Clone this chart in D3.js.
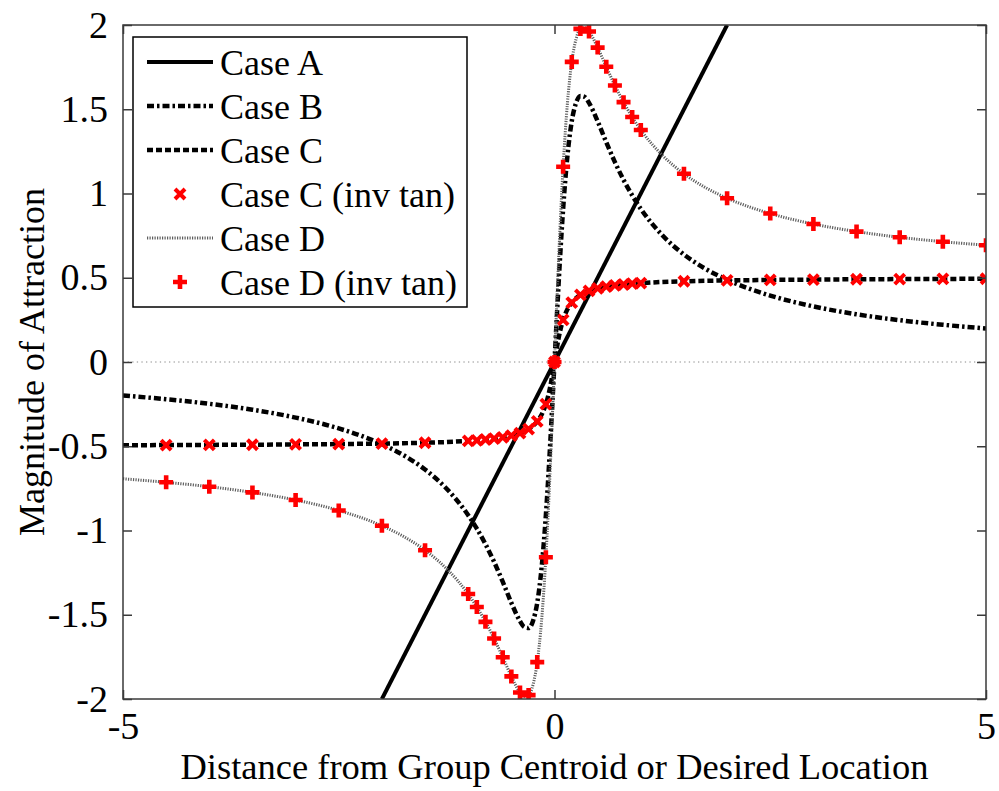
<!DOCTYPE html>
<html>
<head>
<meta charset="utf-8">
<script src="https://cdn.jsdelivr.net/npm/d3@7"></script>
<style>
  html, body { margin: 0; padding: 0; background: #fff; }
  svg { display: block; font-family: "Liberation Serif", "Times New Roman", serif; }
</style>
</head>
<body>
<svg id="chart"></svg>
<script>
// curve samples (x) shared by case B, C, D lines
const lineX = [-5, -4.5, -4, -3.5, -3, -2.5, -2, -1.75, -1.5, -1.25, -1, -0.9, -0.8, -0.7, -0.6, -0.5, -0.4, -0.35, -0.3, -0.25, -0.2, -0.15, -0.1, -0.075, -0.05, -0.025,
  0, 0.025, 0.05, 0.075, 0.1, 0.15, 0.2, 0.25, 0.3, 0.35, 0.4, 0.5, 0.6, 0.7, 0.8, 0.9, 1, 1.25, 1.5, 1.75, 2, 2.5, 3, 3.5, 4, 4.5, 5];

const caseB = [-0.199, -0.221, -0.248, -0.283, -0.330, -0.394, -0.488, -0.553, -0.638, -0.752, -0.909, -0.989, -1.081, -1.186, -1.304, -1.429, -1.538, -1.573, -1.579, -1.538, -1.429, -1.224, -0.909, -0.710, -0.488, -0.248,
  0, 0.248, 0.488, 0.710, 0.909, 1.224, 1.429, 1.538, 1.579, 1.573, 1.538, 1.429, 1.304, 1.186, 1.081, 0.989, 0.909, 0.752, 0.638, 0.553, 0.488, 0.394, 0.330, 0.283, 0.248, 0.221, 0.199];

const caseC = [-0.494, -0.493, -0.492, -0.491, -0.489, -0.487, -0.484, -0.482, -0.479, -0.475, -0.468, -0.465, -0.460, -0.455, -0.447, -0.437, -0.422, -0.411, -0.398, -0.379, -0.352, -0.313, -0.250, -0.205, -0.148, -0.078,
  0, 0.078, 0.148, 0.205, 0.250, 0.313, 0.352, 0.379, 0.398, 0.411, 0.422, 0.437, 0.447, 0.455, 0.460, 0.465, 0.468, 0.475, 0.479, 0.482, 0.484, 0.487, 0.489, 0.491, 0.492, 0.493, 0.494];

const caseD = [-0.693, -0.714, -0.740, -0.774, -0.819, -0.881, -0.972, -1.035, -1.117, -1.227, -1.377, -1.454, -1.542, -1.641, -1.752, -1.866, -1.961, -1.984, -1.977, -1.917, -1.781, -1.537, -1.159, -0.915, -0.635, -0.326,
  0, 0.326, 0.635, 0.915, 1.159, 1.537, 1.781, 1.917, 1.977, 1.984, 1.961, 1.866, 1.752, 1.641, 1.542, 1.454, 1.377, 1.227, 1.117, 1.035, 0.972, 0.881, 0.819, 0.774, 0.740, 0.714, 0.693];

// case A is the straight line y = x
const caseAX = [-2, 2];
const caseAY = [-2, 2];

// inverse tangent marker samples
const markerX = [-4.5, -4, -3.5, -3, -2.5, -2, -1.5, -1, -0.9, -0.8, -0.7, -0.6, -0.5, -0.4, -0.3, -0.2, -0.1,
  0, 0.1, 0.2, 0.3, 0.4, 0.5, 0.6, 0.7, 0.8, 0.9, 1, 1.5, 2, 2.5, 3, 3.5, 4, 4.5, 5];
const caseCInvTan = [-0.493, -0.492, -0.491, -0.489, -0.487, -0.484, -0.479, -0.468, -0.465, -0.460, -0.455, -0.447, -0.437, -0.422, -0.398, -0.352, -0.250,
  0, 0.250, 0.352, 0.398, 0.422, 0.437, 0.447, 0.455, 0.460, 0.465, 0.468, 0.479, 0.484, 0.487, 0.489, 0.491, 0.492, 0.493, 0.494];
const caseDInvTan = [-0.714, -0.740, -0.774, -0.819, -0.881, -0.972, -1.117, -1.377, -1.454, -1.542, -1.641, -1.752, -1.866, -1.961, -1.977, -1.781, -1.159,
  0, 1.159, 1.781, 1.977, 1.961, 1.866, 1.752, 1.641, 1.542, 1.454, 1.377, 1.117, 0.972, 0.881, 0.819, 0.774, 0.740, 0.714, 0.693];

const xTicks = [-5, 0, 5];
const yTicks = [-2, -1.5, -1, -0.5, 0, 0.5, 1, 1.5, 2];
const legendLabels = ["Case A", "Case B", "Case C", "Case C (inv tan)", "Case D", "Case D (inv tan)"];

const width = 999;
const height = 791;
const margin = { top: 25, right: 13, bottom: 92, left: 123 };
const FONT = 36;
const TICK_FONT = 38;
const RED = "#ff0000";

const svg = d3.select("#chart").attr("width", width).attr("height", height);
svg.append("rect").attr("width", width).attr("height", height).attr("fill", "#fff");

const x = d3.scaleLinear().domain([-5, 5]).range([margin.left, width - margin.right]);
const y = d3.scaleLinear().domain([-2, 2]).range([height - margin.bottom, margin.top]);

svg.append("defs").append("clipPath").attr("id", "plot-clip")
  .append("rect")
  .attr("x", x(-5)).attr("y", y(2))
  .attr("width", x(5) - x(-5)).attr("height", y(-2) - y(2));

const plot = svg.append("g").attr("clip-path", "url(#plot-clip)");

const STYLES = {
  A: { stroke: "#000", width: 4, dash: null },
  B: { stroke: "#000", width: 4.5, dash: "7,3,2.5,3" },
  C: { stroke: "#000", width: 4.5, dash: "6,3" },
  D: { stroke: "#5e5e5e", width: 3, dash: "1.2,1.3" }
};

// zero reference line
plot.append("line")
  .attr("x1", x(-5)).attr("x2", x(5))
  .attr("y1", y(0)).attr("y2", y(0))
  .attr("stroke", "#888").attr("stroke-width", 1)
  .attr("stroke-dasharray", "1.3,3.3");

function drawLine(xs, ys, st) {
  const pts = xs.map((v, i) => [v, ys[i]]);
  const line = d3.line().x(d => x(d[0])).y(d => y(d[1])).curve(d3.curveMonotoneX);
  plot.append("path")
    .datum(pts)
    .attr("d", line)
    .attr("fill", "none")
    .attr("stroke", st.stroke)
    .attr("stroke-width", st.width)
    .attr("stroke-dasharray", st.dash)
    .attr("stroke-linejoin", "round");
}

function crossPath(s) { return `M${-s},${-s}L${s},${s}M${-s},${s}L${s},${-s}`; }
function plusPath(s) { return `M${-s},0L${s},0M0,${-s}L0,${s}`; }

const CROSS = { d: crossPath(5), w: 4 };
const PLUS = { d: plusPath(7), w: 4.6 };

function drawMarkers(xs, ys, m) {
  plot.append("g").selectAll("path")
    .data(xs.map((v, i) => [v, ys[i]]))
    .join("path")
    .attr("transform", p => `translate(${x(p[0])},${y(p[1])})`)
    .attr("d", m.d)
    .attr("fill", "none")
    .attr("stroke", RED)
    .attr("stroke-width", m.w);
}

drawLine(caseAX, caseAY, STYLES.A);
drawLine(lineX, caseB, STYLES.B);
drawLine(lineX, caseC, STYLES.C);
drawMarkers(markerX, caseCInvTan, CROSS);
drawLine(lineX, caseD, STYLES.D);
drawMarkers(markerX, caseDInvTan, PLUS);

// axes box
const axisColor = "#3a3a3a";
const tickLen = 9;
svg.append("rect")
  .attr("x", x(-5)).attr("y", y(2))
  .attr("width", x(5) - x(-5)).attr("height", y(-2) - y(2))
  .attr("fill", "none").attr("stroke", axisColor).attr("stroke-width", 1.5);

const bottomAxis = svg.append("g")
  .attr("transform", `translate(0,${y(-2)})`)
  .call(d3.axisBottom(x).tickValues(xTicks).tickSize(-tickLen).tickPadding(13).tickFormat(d3.format("")));
const topAxis = svg.append("g")
  .attr("transform", `translate(0,${y(2)})`)
  .call(d3.axisTop(x).tickValues(xTicks).tickSize(-tickLen).tickFormat(""));
const leftAxis = svg.append("g")
  .attr("transform", `translate(${x(-5)},0)`)
  .call(d3.axisLeft(y).tickValues(yTicks).tickSize(-tickLen).tickPadding(15).tickFormat(d3.format("")));
const rightAxis = svg.append("g")
  .attr("transform", `translate(${x(5)},0)`)
  .call(d3.axisRight(y).tickValues(yTicks).tickSize(-tickLen).tickFormat(""));

[bottomAxis, topAxis, leftAxis, rightAxis].forEach(g => {
  g.select(".domain").remove();
  g.selectAll(".tick line").attr("stroke", axisColor).attr("stroke-width", 1.5);
  g.selectAll("text")
    .attr("font-family", "Liberation Serif, Times New Roman, serif")
    .attr("font-size", TICK_FONT)
    .attr("fill", "#000");
});
// hyphen for negatives, as in the original
bottomAxis.selectAll("text").text(d => String(d).replace("\u2212", "-"));
leftAxis.selectAll("text").text(d => String(d).replace("\u2212", "-"));

// axis labels
svg.append("text")
  .attr("x", x(0)).attr("y", 779)
  .attr("text-anchor", "middle")
  .attr("font-size", 36.5)
  .text("Distance from Group Centroid or Desired Location");

svg.append("text")
  .attr("transform", `translate(44,${(y(2) + y(-2)) / 2}) rotate(-90)`)
  .attr("text-anchor", "middle")
  .attr("font-size", FONT)
  .text("Magnitude of Attraction");

// legend
const legend = svg.append("g");
legend.append("rect")
  .attr("x", 133).attr("y", 37)
  .attr("width", 334).attr("height", 270)
  .attr("fill", "#fff").attr("stroke", "#000").attr("stroke-width", 1.5);

const legendKinds = [
  { type: "line", st: STYLES.A },
  { type: "line", st: STYLES.B },
  { type: "line", st: STYLES.C },
  { type: "mark", m: CROSS },
  { type: "line", st: STYLES.D },
  { type: "mark", m: PLUS }
];

legendLabels.forEach((label, i) => {
  const cy = 62 + i * 44;
  const k = legendKinds[i];
  if (k.type === "line") {
    legend.append("line")
      .attr("x1", 147).attr("x2", 213).attr("y1", cy).attr("y2", cy)
      .attr("stroke", k.st.stroke).attr("stroke-width", k.st.width)
      .attr("stroke-dasharray", k.st.dash);
  } else {
    legend.append("path")
      .attr("transform", `translate(180,${cy})`)
      .attr("d", k.m.d)
      .attr("fill", "none").attr("stroke", RED)
      .attr("stroke-width", k.m.w);
  }
  legend.append("text")
    .attr("x", 220).attr("y", cy + 12.5)
    .attr("font-size", FONT)
    .text(label);
});
</script>
</body>
</html>
